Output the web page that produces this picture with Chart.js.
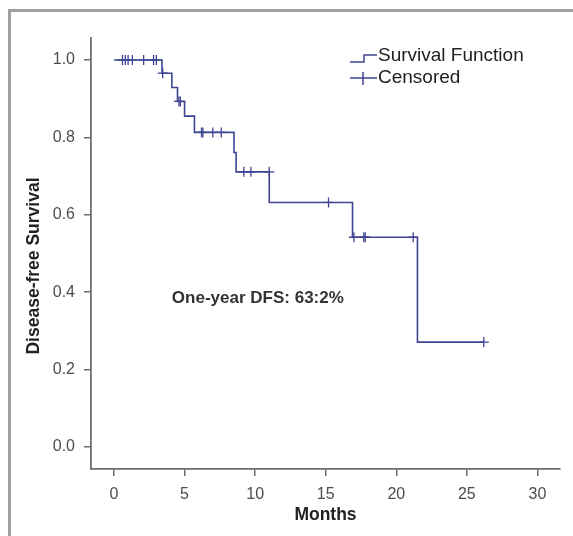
<!DOCTYPE html>
<html>
<head>
<meta charset="utf-8">
<script src="https://cdn.jsdelivr.net/npm/chart.js@4/dist/chart.umd.min.js"></script>
<style>
  html, body { margin: 0; padding: 0; background: #fff; }
  #wrap { position: relative; width: 573px; height: 536px; overflow: hidden; }
  #frame { position: absolute; left: 8px; top: 9px; width: 600px; height: 600px;
           border-left: 3px solid #a0a0a0; border-top: 3px solid #a0a0a0; }
  #c { position: absolute; left: 0; top: 0; }
</style>
</head>
<body>
<div id="wrap">
  <div id="frame"></div>
  <canvas id="c" width="573" height="536"></canvas>
</div>
<script>
// --- Data ---
const stepMonths = [0, 3.4, 4.1, 4.5, 5.0, 5.7, 8.5, 8.65, 11.0, 16.9, 21.5, 26.2];
const survival   = [1.0, 0.966, 0.929, 0.893, 0.855, 0.813, 0.761, 0.711, 0.632, 0.542, 0.271, 0.271];

const censorMonths   = [0.6, 0.8, 1.0, 1.3, 2.1, 2.8, 3.0, 3.45, 4.6, 4.7, 6.2, 6.3, 7.0, 7.6, 9.2, 9.7, 11.0, 15.2, 17.0, 17.7, 17.8, 21.2, 26.2];
const censorSurvival = [1.0, 1.0, 1.0, 1.0, 1.0, 1.0, 1.0, 0.966, 0.893, 0.893, 0.813, 0.813, 0.813, 0.813, 0.711, 0.711, 0.711, 0.632, 0.542, 0.542, 0.542, 0.542, 0.271];

const xTicks = [0, 5, 10, 15, 20, 25, 30];
const yTicks = [0.0, 0.2, 0.4, 0.6, 0.8, 1.0];
const legendLabels = ["Survival Function", "Censored"];
const noteText = "One-year DFS: 63:2%";
const xTitle = "Months";
const yTitle = "Disease-free Survival";

const lineColor = "#3f4594";
const axisColor = "#6e6e6e";
const textColor = "#4d4d4d";
const FONT = "'Liberation Sans', Arial, sans-serif";

// --- custom legend, note and y title ---
const extras = {
  id: "extras",
  afterDraw(chart) {
    const ctx = chart.ctx;
    const xs = chart.scales.x, ys = chart.scales.y;
    ctx.save();
    ctx.strokeStyle = lineColor;
    ctx.lineWidth = 1.5;
    // step icon
    ctx.beginPath();
    ctx.moveTo(350, 62); ctx.lineTo(364, 62); ctx.lineTo(364, 55); ctx.lineTo(377, 55);
    ctx.stroke();
    // censor icon
    ctx.beginPath();
    ctx.moveTo(350, 78); ctx.lineTo(377, 78);
    ctx.moveTo(363, 72); ctx.lineTo(363, 85);
    ctx.stroke();
    ctx.fillStyle = "#222";
    ctx.font = "19px " + FONT;
    ctx.textBaseline = "middle";
    ctx.textAlign = "left";
    ctx.fillText(legendLabels[0], 378, 56);
    ctx.fillText(legendLabels[1], 378, 78);
    // note
    ctx.font = "bold 17px " + FONT;
    ctx.fillStyle = "#333";
    ctx.fillText(noteText, xs.getPixelForValue(4.1), ys.getPixelForValue(0.384));
    // y axis title
    ctx.translate(34, 266);
    ctx.rotate(-Math.PI / 2);
    ctx.textAlign = "center";
    ctx.fillStyle = "#222";
    ctx.font = "bold 17.5px " + FONT;
    ctx.fillText(yTitle, 0, 0);
    ctx.restore();
  }
};

new Chart(document.getElementById("c"), {
  type: "scatter",
  data: {
    datasets: [
      {
        label: legendLabels[0],
        data: stepMonths.map((m, i) => ({ x: m, y: survival[i] })),
        showLine: true,
        stepped: "before",
        borderColor: lineColor,
        borderWidth: 1.6,
        pointRadius: 0,
        fill: false
      },
      {
        label: legendLabels[1],
        data: censorMonths.map((m, i) => ({ x: m, y: censorSurvival[i] })),
        showLine: false,
        pointStyle: "cross",
        pointRadius: 5,
        borderColor: lineColor,
        borderWidth: 1.3
      }
    ]
  },
  options: {
    responsive: false,
    animation: false,
    devicePixelRatio: 1,
    layout: { padding: { left: 18, right: 13, top: 38, bottom: 6 } },
    plugins: { legend: { display: false }, tooltip: { enabled: false } },
    scales: {
      x: {
        type: "linear",
        min: -1.63,
        max: 31.6,
        afterBuildTicks: (s) => { s.ticks = xTicks.map(v => ({ value: v })); },
        afterFit: (s) => { s.height = 61; },
        grid: { drawOnChartArea: false, drawTicks: true, tickLength: 7, color: axisColor, lineWidth: 1.5 },
        border: { display: true, color: axisColor, width: 1.8 },
        ticks: { color: textColor, padding: 9, font: { family: FONT, size: 16 } },
        title: { display: true, text: xTitle, color: "#222", padding: { top: 0 },
                 font: { family: FONT, size: 17.5, weight: "bold" } }
      },
      y: {
        type: "linear",
        min: -0.057,
        max: 1.057,
        afterBuildTicks: (s) => { s.ticks = yTicks.map(v => ({ value: v })); },
        afterFit: (s) => { s.width = 73; },
        grid: { drawOnChartArea: false, drawTicks: true, tickLength: 7, color: axisColor, lineWidth: 1.5 },
        border: { display: true, color: axisColor, width: 1.8 },
        ticks: { color: textColor, padding: 9, callback: (v) => v.toFixed(1),
                 font: { family: FONT, size: 16 } },
        title: { display: false }
      }
    }
  },
  plugins: [extras]
});
</script>
</body>
</html>
